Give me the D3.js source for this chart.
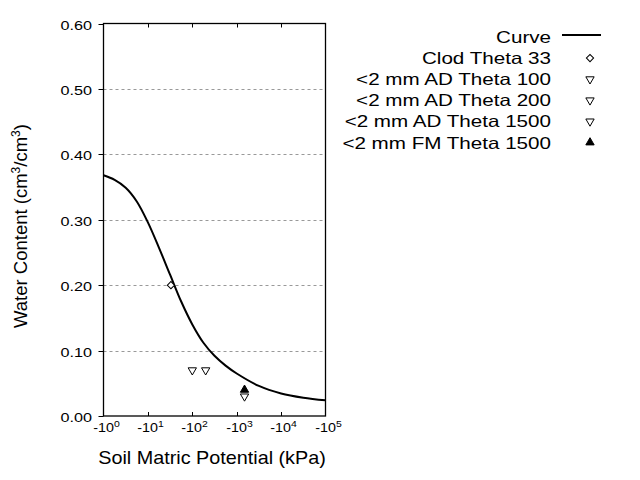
<!DOCTYPE html>
<html><head><meta charset="utf-8">
<script src="https://cdn.jsdelivr.net/npm/d3@7"></script>
<style>body{margin:0;background:#fff}svg{display:block}text{font-family:"Liberation Sans",Arial,sans-serif;fill:#000}</style>
</head><body><svg id="c" width="640" height="480"></svg>
<script>
// ---- data ----
const curveH =     [1, 1.78, 3.16, 5.62, 10, 17.8, 31.6, 56.2, 100, 178, 316, 562, 1000, 3162, 10000, 31623, 100000];
const curveTheta = [0.368, 0.361, 0.349, 0.328, 0.296, 0.257, 0.216, 0.175, 0.140, 0.112, 0.092, 0.077, 0.065, 0.046, 0.0345, 0.028, 0.024];
const seriesNames = ["Clod Theta 33", "<2 mm AD Theta 100", "<2 mm AD Theta 200", "<2 mm AD Theta 1500", "<2 mm FM Theta 1500"];
const seriesH =     [33, 100, 200, 1500, 1500];
const seriesTheta = [0.20, 0.07, 0.07, 0.03, 0.04];
const seriesMarker = ["diamond", "triDown", "triDown", "triDown", "triUpFilled"];
const yTicks = [0, 0.1, 0.2, 0.3, 0.4, 0.5, 0.6];
const xTickExps = [0, 1, 2, 3, 4, 5];

// ---- layout ----
const svg = d3.select("#c");
const L = 103.5, R = 325.5, T = 23.5, B = 416;
const x = d3.scaleLog().domain([1, 1e5]).range([L, R]);
const y = d3.scaleLinear().domain([0, 0.6]).range([B, T]);

// grid
svg.append("g").selectAll("line").data(yTicks.filter(d => d > 0 && d < 0.6)).join("line")
  .attr("x1", L).attr("x2", R).attr("y1", d => Math.round(y(d)) + 0.5).attr("y2", d => Math.round(y(d)) + 0.5)
  .attr("stroke", "#999").attr("stroke-width", 1).attr("stroke-dasharray", "3,3");

// frame
svg.append("rect").attr("x", L).attr("y", T).attr("width", R - L).attr("height", B - T)
  .attr("fill", "none").attr("stroke", "#000").attr("stroke-width", 1.3);

// y ticks outward + labels
const yAxis = svg.append("g");
yTicks.forEach(d => {
  const yy = Math.round(y(d)) + 0.5;
  yAxis.append("line").attr("x1", L - 5).attr("x2", L).attr("y1", yy).attr("y2", yy).attr("stroke", "#000");
  yAxis.append("text").attr("transform", `translate(92,${yy + 5}) scale(1.2,1)`)
    .attr("text-anchor", "end").attr("font-size", 13.5).text(d3.format(".2f")(d));
});

// x ticks inward bottom & top
const xAxis = svg.append("g");
xTickExps.forEach(e => {
  const xx = Math.round(x(Math.pow(10, e))) + 0.5;
  if (e > 0 && e < 5) {
    xAxis.append("line").attr("x1", xx).attr("x2", xx).attr("y1", B).attr("y2", B - 4).attr("stroke", "#000");
    xAxis.append("line").attr("x1", xx).attr("x2", xx).attr("y1", T).attr("y2", T + 4).attr("stroke", "#000");
  }
  const t = xAxis.append("text").attr("transform", `translate(${xx + 2},432) scale(1.1,1)`)
    .attr("text-anchor", "middle").attr("font-size", 13);
  t.append("tspan").text("-10");
  t.append("tspan").attr("font-size", 9.5).attr("dy", -5).text(e);
});

// curve
const curvePts = curveH.map((h, i) => [h, curveTheta[i]]);
svg.append("path").datum(curvePts)
  .attr("d", d3.line().x(d => x(d[0])).y(d => y(d[1])).curve(d3.curveCatmullRom.alpha(0.5)))
  .attr("fill", "none").attr("stroke", "#000").attr("stroke-width", 2);

// markers
function marker(g, type, cx, cy) {
  if (type === "diamond") {
    g.append("path").attr("d", d3.symbol(d3.symbolSquare, 26)())
      .attr("transform", `translate(${cx},${cy}) rotate(45)`)
      .attr("fill", "#fff").attr("stroke", "#000").attr("stroke-width", 1);
  } else if (type === "triDown") {
    g.append("path").attr("d", d3.symbol(d3.symbolTriangle, 30)())
      .attr("transform", `translate(${cx},${cy}) rotate(180)`)
      .attr("fill", "#fff").attr("stroke", "#000").attr("stroke-width", 1);
  } else {
    g.append("path").attr("d", d3.symbol(d3.symbolTriangle, 30)())
      .attr("transform", `translate(${cx},${cy})`)
      .attr("fill", "#000").attr("stroke", "#000").attr("stroke-width", 1);
  }
}
const pts = svg.append("g");
seriesNames.forEach((n, i) => marker(pts, seriesMarker[i], x(seriesH[i]), y(seriesTheta[i])));

// axis titles
svg.append("text").attr("transform", "translate(212,464) scale(1.1,1)").attr("text-anchor", "middle")
  .attr("font-size", 18).text("Soil Matric Potential (kPa)");
const yt = svg.append("text").attr("transform", "translate(27,226) rotate(-90)").attr("text-anchor", "middle")
  .attr("font-size", 18.5);
yt.append("tspan").text("Water Content (cm");
yt.append("tspan").attr("font-size", 12).attr("dy", -7).text("3");
yt.append("tspan").attr("dy", 7).text("/cm");
yt.append("tspan").attr("font-size", 12).attr("dy", -7).text("3");
yt.append("tspan").attr("dy", 7).text(")");

// legend
const legendNames = ["Curve"].concat(seriesNames);
const leg = svg.append("g");
legendNames.forEach((n, i) => {
  const cy = 37 + i * 21.1;
  leg.append("text").attr("transform", `translate(551,${cy + 6}) scale(1.25,1)`)
    .attr("text-anchor", "end").attr("font-size", 16.5).text(n);
  if (i === 0) {
    leg.append("line").attr("x1", 562).attr("x2", 601).attr("y1", cy - 2).attr("y2", cy - 2)
      .attr("stroke", "#000").attr("stroke-width", 2);
  } else {
    marker(leg, seriesMarker[i - 1], 590, cy);
  }
});
</script></body></html>
